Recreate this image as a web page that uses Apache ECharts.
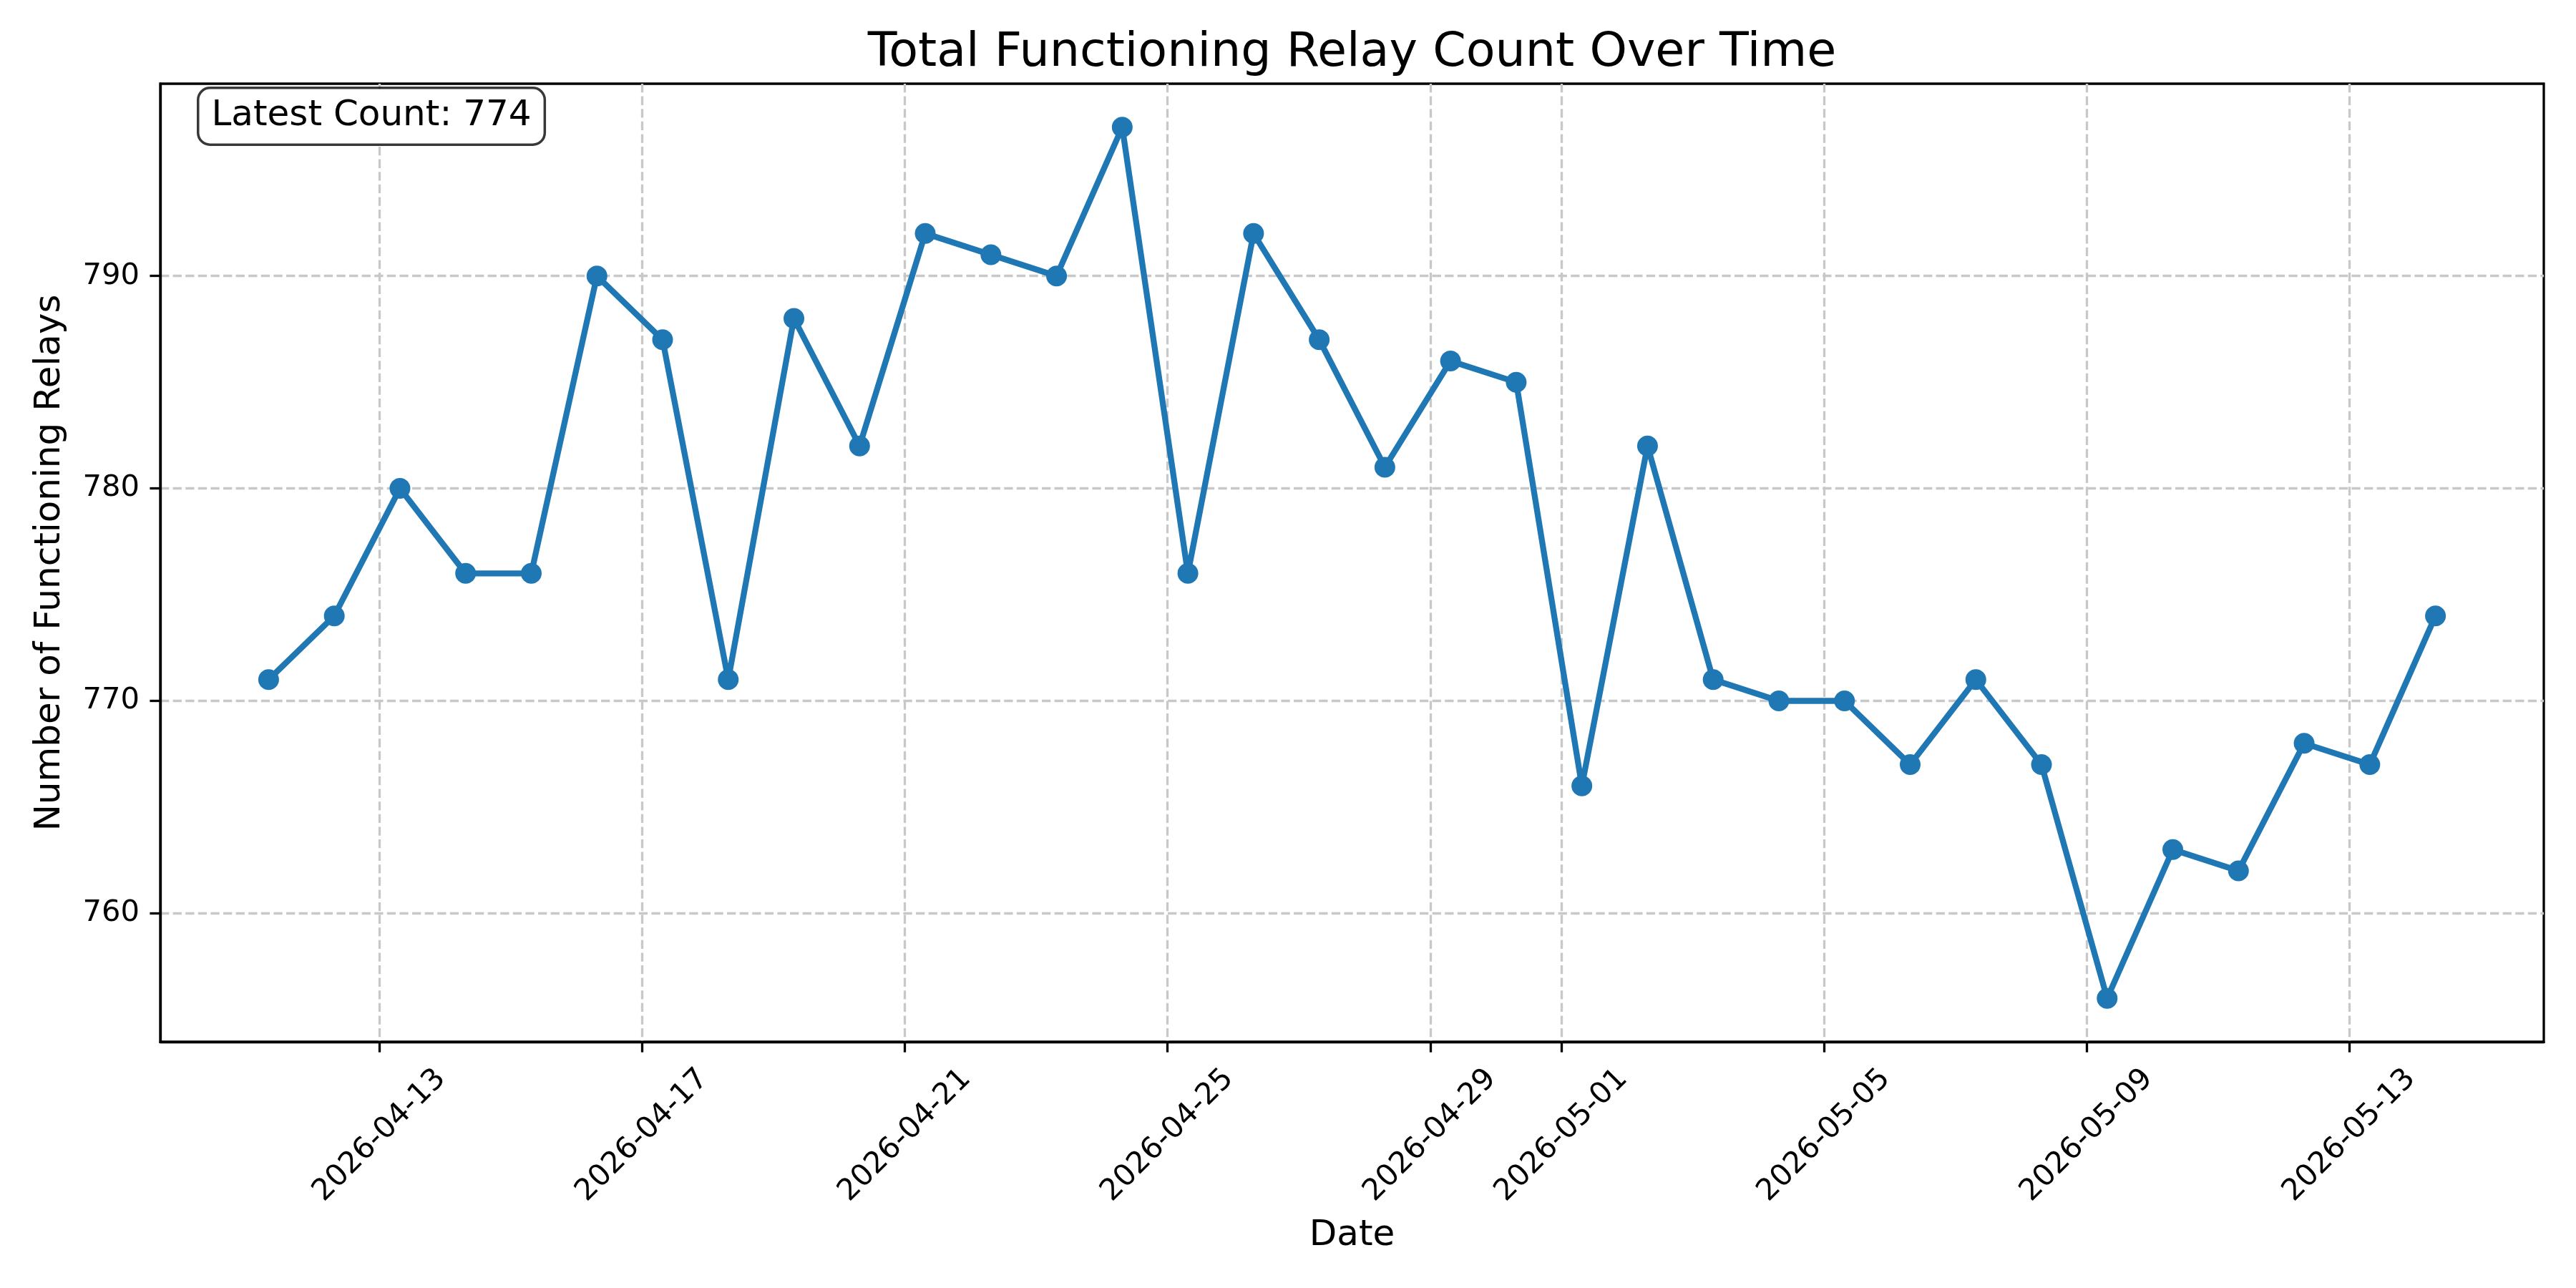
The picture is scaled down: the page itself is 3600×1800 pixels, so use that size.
<!DOCTYPE html>
<html>
<head>
<meta charset="utf-8">
<title>Total Functioning Relay Count Over Time</title>
<script src="https://cdn.jsdelivr.net/npm/echarts@6/dist/echarts.min.js"></script>
<style>
  html, body { margin: 0; padding: 0; background: #fff; }
  #chart { width: 3600px; height: 1800px; }
</style>
</head>
<body>
<div id="chart"></div>
<script>
// one reading per day (UTC)
var dates = [
  '2026-04-11T07:25:00Z', '2026-04-12T07:25:00Z', '2026-04-13T07:25:00Z', '2026-04-14T07:25:00Z',
  '2026-04-15T07:25:00Z', '2026-04-16T07:25:00Z', '2026-04-17T07:25:00Z', '2026-04-18T07:25:00Z',
  '2026-04-19T07:25:00Z', '2026-04-20T07:25:00Z', '2026-04-21T07:25:00Z', '2026-04-22T07:25:00Z',
  '2026-04-23T07:25:00Z', '2026-04-24T07:25:00Z', '2026-04-25T07:25:00Z', '2026-04-26T07:25:00Z',
  '2026-04-27T07:25:00Z', '2026-04-28T07:25:00Z', '2026-04-29T07:25:00Z', '2026-04-30T07:25:00Z',
  '2026-05-01T07:25:00Z', '2026-05-02T07:25:00Z', '2026-05-03T07:25:00Z', '2026-05-04T07:25:00Z',
  '2026-05-05T07:25:00Z', '2026-05-06T07:25:00Z', '2026-05-07T07:25:00Z', '2026-05-08T07:25:00Z',
  '2026-05-09T07:25:00Z', '2026-05-10T07:25:00Z', '2026-05-11T07:25:00Z', '2026-05-12T07:25:00Z',
  '2026-05-13T07:25:00Z', '2026-05-14T07:25:00Z'
];
var counts = [
  771, 774, 780, 776, 776, 790, 787, 771, 788, 782,
  792, 791, 790, 797, 776, 792, 787, 781, 786, 785,
  766, 782, 771, 770, 770, 767, 771, 767, 756, 763,
  762, 768, 767, 774
];
var tickDates = ['2026-04-13', '2026-04-17', '2026-04-21', '2026-04-25', '2026-04-29',
                 '2026-05-01', '2026-05-05', '2026-05-09', '2026-05-13'];
var yTicks = [760, 770, 780, 790];

var FONT = 'DejaVu Sans';
var BLUE = '#1f77b4';

// plot area (px)
var plotLeft = 224, plotRight = 3555, plotTop = 117, plotBottom = 1456;

var times = dates.map(function (d) { return Date.parse(d); });
var tickTimes = tickDates.map(function (d) { return Date.parse(d + 'T00:00:00Z'); });

// 5% margins like matplotlib
var tMin = Math.min.apply(null, times), tMax = Math.max.apply(null, times);
var vMin = Math.min.apply(null, counts), vMax = Math.max.apply(null, counts);
var xPad = (tMax - tMin) * 0.05, yPad = (vMax - vMin) * 0.05;

var chart = echarts.init(document.getElementById('chart'));

var option = {
  animation: false,
  backgroundColor: '#fff',
  title: {
    text: 'Total Functioning Relay Count Over Time',
    left: (plotLeft + plotRight) / 2,
    textAlign: 'center',
    top: 41,
    padding: 0,
    textStyle: { fontFamily: FONT, fontSize: 66.7, fontWeight: 'normal', color: '#000' }
  },
  grid: {
    left: plotLeft,
    right: 3600 - plotRight,
    top: plotTop,
    bottom: 1800 - plotBottom,
    show: true,
    borderColor: '#000',
    borderWidth: 3.3,
    backgroundColor: 'transparent',
    outerBoundsMode: 'none'
  },
  xAxis: {
    type: 'value',
    min: tMin - xPad,
    max: tMax + xPad,
    name: 'Date',
    nameLocation: 'middle',
    nameGap: 246,
    nameTextStyle: { fontFamily: FONT, fontSize: 50, color: '#000' },
    axisLine: { show: true, onZero: false, lineStyle: { color: '#000', width: 3.3 } },
    axisTick: { show: true, length: 14.6, lineStyle: { color: '#000', width: 3.3 }, customValues: tickTimes },
    axisLabel: {
      customValues: tickTimes,
      rotate: 45,
      align: 'center',
      verticalAlign: 'middle',
      margin: 131,
      fontFamily: FONT,
      fontSize: 41.7,
      color: '#000',
      formatter: function (v) { return new Date(v).toISOString().slice(0, 10); }
    },
    splitLine: {
      show: true,
      lineStyle: { color: '#c8c8c8', width: 3.3, type: [12.3, 5.3] }
    }
  },
  yAxis: {
    type: 'value',
    min: vMin - yPad,
    max: vMax + yPad,
    name: 'Number of Functioning Relays',
    nameLocation: 'middle',
    nameGap: 129,
    nameTextStyle: { fontFamily: FONT, fontSize: 50, color: '#000' },
    axisLine: { show: true, onZero: false, lineStyle: { color: '#000', width: 3.3 } },
    axisTick: { show: true, length: 14.6, lineStyle: { color: '#000', width: 3.3 }, customValues: yTicks },
    axisLabel: {
      customValues: yTicks,
      margin: 29,
      fontFamily: FONT,
      fontSize: 41.7,
      color: '#000'
    },
    splitLine: {
      show: true,
      lineStyle: { color: '#c8c8c8', width: 3.3, type: [12.3, 5.3] }
    }
  },
  graphic: [{
    type: 'text',
    left: 275,
    top: 121,
    z: 100,
    style: {
      text: 'Latest Count: ' + counts[counts.length - 1],
      fontFamily: FONT,
      fontSize: 50,
      lineHeight: 50,
      fill: '#000',
      backgroundColor: '#fff',
      borderColor: 'rgba(0,0,0,0.78)',
      borderWidth: 3.5,
      borderRadius: 15,
      padding: [13, 17, 13, 17]
    }
  }],
  series: [{
    type: 'line',
    data: times.map(function (t, i) { return [t, counts[i]]; }),
    color: BLUE,
    lineStyle: { color: BLUE, width: 8.3 },
    itemStyle: { color: BLUE },
    symbol: 'circle',
    symbolSize: 29,
    showSymbol: true,
    showAllSymbol: true
  }]
};

chart.setOption(option);
</script>
</body>
</html>
